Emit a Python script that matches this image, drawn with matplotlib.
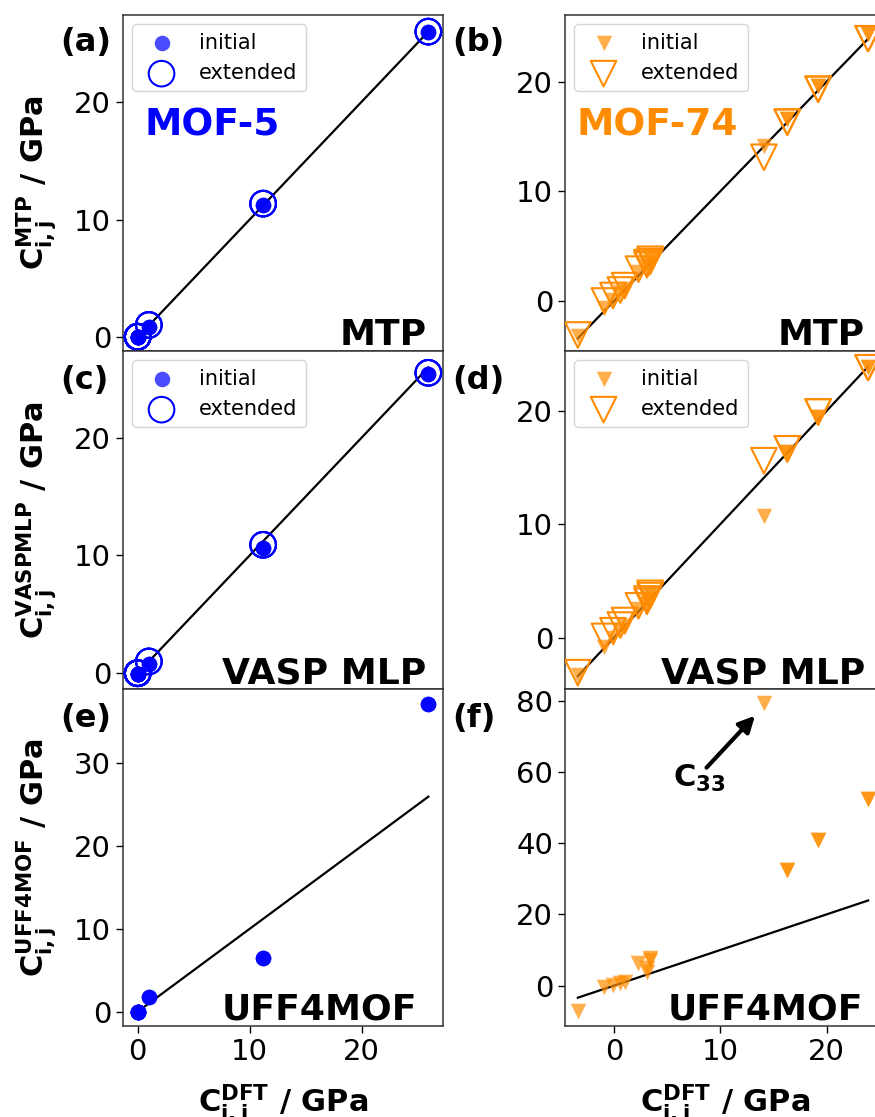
import matplotlib
matplotlib.use("Agg")
import matplotlib.pyplot as plt

# ---------------- data ----------------
# MOF-5 (cubic) elastic constants, GPa
mof5_dft = [25.95, 25.95, 25.95, 11.2, 11.2, 11.2, 1.0, 1.0, 1.0,
            0.0, 0.0, 0.0, 0.0, 0.0, 0.0, 0.0, 0.0, 0.0, 0.0, 0.0, 0.0]
mof5_mtp_init = [25.9, 25.9, 25.9, 11.25, 11.25, 11.25, 0.9, 0.9, 0.9,
                 0.0, 0.0, 0.0, 0.0, 0.0, 0.0, 0.0, 0.0, 0.0, 0.0, 0.0, 0.0]
mof5_mtp_ext = [25.95, 25.95, 25.95, 11.35, 11.35, 11.35, 1.05, 1.05, 1.05,
                0.05, 0.05, 0.05, 0.05, 0.05, 0.05, 0.05, 0.05, 0.05, 0.05, 0.05, 0.05]
mof5_vasp_init = [25.4, 25.4, 25.4, 10.6, 10.6, 10.6, 0.75, 0.75, 0.75,
                  -0.05, -0.05, -0.05, -0.05, -0.05, -0.05, -0.05, -0.05, -0.05, -0.05, -0.05, -0.05]
mof5_vasp_ext = [25.5, 25.5, 25.5, 10.9, 10.9, 10.9, 1.0, 1.0, 1.0,
                 0.0, 0.0, 0.0, 0.0, 0.0, 0.0, 0.0, 0.0, 0.0, 0.0, 0.0, 0.0]
mof5_uff = [37.1, 37.1, 37.1, 6.5, 6.5, 6.5, 1.8, 1.8, 1.8,
            0.0, 0.0, 0.0, 0.0, 0.0, 0.0, 0.0, 0.0, 0.0, 0.0, 0.0, 0.0]

# MOF-74 elastic constants, GPa
mof74_dft = [23.9, 23.9, 19.2, 19.2, 16.3, 16.3, 14.1, 3.4, 3.4, 3.1, 3.1,
             2.3, 1.0, 0.6, -0.1, -0.9, -3.4]
mof74_mtp_init = [24.3, 24.3, 19.6, 19.6, 16.6, 16.6, 14.1, 4.0, 3.7, 3.4, 3.2,
                  2.6, 1.1, 0.8, 0.1, -0.6, -3.2]
mof74_mtp_ext = [23.9, 23.9, 19.3, 19.3, 16.3, 16.3, 13.1, 3.8, 3.6, 3.5, 3.3,
                 2.9, 1.4, 1.0, 0.5, 0.0, -3.1]
mof74_vasp_init = [23.9, 23.9, 19.5, 19.5, 16.4, 16.4, 10.7, 3.9, 3.6, 3.2, 3.0,
                   2.5, 1.0, 0.7, 0.0, -0.8, -3.3]
mof74_vasp_ext = [23.8, 23.8, 19.9, 19.9, 16.65, 16.65, 15.6, 3.9, 3.7, 3.4, 3.2,
                  2.8, 1.5, 1.1, 0.6, 0.1, -3.1]
mof74_uff = [52.5, 52.5, 41.0, 41.0, 32.4, 32.4, 79.3, 7.7, 7.2, 4.9, 3.8,
             6.4, 1.1, 0.7, 0.2, -0.45, -7.1]

models = ["MTP", "VASP MLP", "UFF4MOF"]
ylabel_tags = ["MTP", "VASPMLP", "UFF4MOF"]
panel_tags = ["(a)", "(b)", "(c)", "(d)", "(e)", "(f)"]

BLUE = "#0000ff"
ORANGE = "#ff8c00"

W, H = 875, 1117
fig = plt.figure(figsize=(W / 100, H / 100), dpi=100)


def fx(px):
    return px / W


def fy(py):
    return 1 - py / H


col_left = [123, 565]
col_w = 320
row_edges = [(15, 351), (351, 689), (689, 1026)]

xlims = [(-1.31, 27.26), (-4.61, 25.49)]
ylims = [[(-1.16, 27.36), (-4.56, 26.07)],
         [(-1.34, 27.35), (-4.54, 25.28)],
         [(-1.73, 38.95), (-11.35, 83.3)]]
yticks = [[[0, 10, 20], [0, 10, 20]],
          [[0, 10, 20], [0, 10, 20]],
          [[0, 10, 20, 30], [0, 20, 40, 60, 80]]]

series = [
    [(mof5_dft, mof5_mtp_init, mof5_mtp_ext), (mof74_dft, mof74_mtp_init, mof74_mtp_ext)],
    [(mof5_dft, mof5_vasp_init, mof5_vasp_ext), (mof74_dft, mof74_vasp_init, mof74_vasp_ext)],
    [(mof5_dft, mof5_uff, None), (mof74_dft, mof74_uff, None)],
]
colors = [BLUE, ORANGE]
markers = ["o", "v"]

# label positions (pixels)
tag_pos = [[(60, 51), (452, 51)], [(60, 389), (452, 389)], [(60, 727.5), (452, 727.5)]]
model_pos = [[(426.7, 345), (865, 345)], [(426.7, 683.3), (865, 683.3)],
             [(416.7, 1020), (863.3, 1020)]]

axes = {}
for r in range(3):
    top, bot = row_edges[r]
    for c in range(2):
        ax = fig.add_axes([fx(col_left[c]), fy(bot), fx(col_w), (bot - top) / H])
        axes[(r, c)] = ax
        dft, init, ext = series[r][c]
        lo, hi = min(dft), max(dft)
        ax.plot([lo, hi], [lo, hi], color="black", lw=1.6, zorder=1)
        ax.scatter(dft, init, s=125, marker=markers[c], color=colors[c], alpha=0.7,
                   linewidths=0, label="initial", zorder=2)
        if ext is not None:
            ax.scatter(dft, ext, s=340, marker=markers[c], facecolors="none",
                       edgecolors=colors[c], linewidths=1.5, label="extended", zorder=3)
            ax.legend(loc="upper left", fontsize=15, borderaxespad=0.45)
        ax.set_xlim(*xlims[c])
        ax.set_ylim(*ylims[r][c])
        ax.set_xticks([0, 10, 20])
        ax.set_yticks(yticks[r][c])
        ax.tick_params(labelsize=21, length=5, width=1)
        for s in ax.spines.values():
            s.set_color("#333333")
            s.set_linewidth(1.1)
        if r < 2:
            ax.tick_params(axis="x", bottom=False, labelbottom=False)
        else:
            ax.set_xlabel(r"$\mathbf{C_{i,j}^{DFT}}$ / GPa", fontsize=22,
                          fontweight="bold", labelpad=12)
        if c == 0:
            ax.set_ylabel(r"$\mathbf{C_{i,j}^{%s}}$ / GPa" % ylabel_tags[r], fontsize=22,
                          fontweight="bold", labelpad=11)
        tx, ty = tag_pos[r][c]
        fig.text(fx(tx), fy(ty), panel_tags[2 * r + c], fontsize=23, fontweight="bold",
                 ha="left", va="baseline")
        mx, my = model_pos[r][c]
        fig.text(fx(mx), fy(my), models[r], fontsize=26, fontweight="bold",
                 ha="right", va="baseline")

fig.text(fx(145), fy(136), "MOF-5", color=BLUE, fontsize=27, fontweight="bold",
         ha="left", va="baseline")
fig.text(fx(577), fy(136), "MOF-74", color=ORANGE, fontsize=27, fontweight="bold",
         ha="left", va="baseline")

axf = axes[(2, 1)]
axf.annotate("", xy=(13.26, 75.8), xytext=(8.7, 61.2),
             arrowprops=dict(arrowstyle="-|>", color="black", lw=3, mutation_scale=24,
                             shrinkA=0, shrinkB=0))
axf.text(5.58, 55.7, r"$\mathbf{C_{33}}$", fontsize=22, ha="left", va="baseline")

fig.savefig("out.png", dpi=100)
